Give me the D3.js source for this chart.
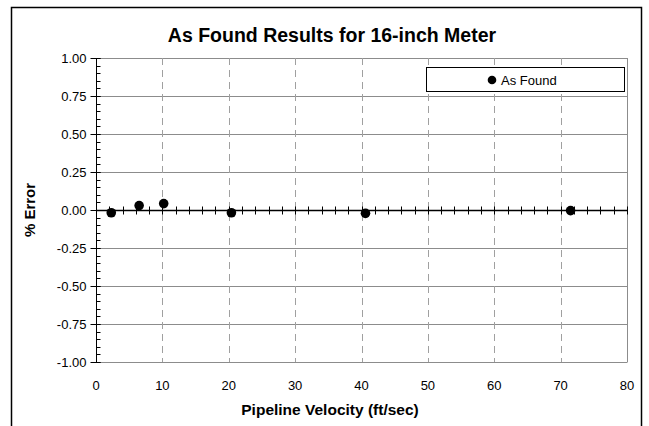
<!DOCTYPE html>
<html>
<head>
<meta charset="utf-8">
<script src="https://cdn.jsdelivr.net/npm/d3@7"></script>
<style>
  body { margin: 0; background: #fff; }
  svg { display: block; font-family: "Liberation Sans", Arial, sans-serif; }
</style>
</head>
<body>
<svg id="chart" width="649" height="426"></svg>
<script>
const velocity = [2.3, 6.5, 10.2, 20.4, 40.6, 71.5];
const pctError = [-0.018, 0.029, 0.042, -0.018, -0.022, -0.004];
const xTicks = [0, 10, 20, 30, 40, 50, 60, 70, 80];
const yTicks = [1, 0.75, 0.5, 0.25, 0, -0.25, -0.5, -0.75, -1];

const margin = { top: 58, right: 22, bottom: 64, left: 96 };
const WIDTH = 649;
const HEIGHT = 426;

const svg = d3.select("#chart");

// outer chart frame (runs off the bottom like the original)
svg.append("rect")
  .attr("x", 11.5).attr("y", 7.5)
  .attr("width", 630).attr("height", 440)
  .attr("fill", "none").attr("stroke", "#000").attr("stroke-width", 1.5);

const xScale = d3.scaleLinear().domain([0, 80]).range([margin.left, WIDTH - margin.right]);
const yScale = d3.scaleLinear().domain([-1, 1]).range([HEIGHT - margin.bottom, margin.top]);

const [x0, x1] = xScale.range();
const [yb, yt] = yScale.range();

// horizontal grid
svg.append("g")
  .selectAll("line")
  .data(yTicks.filter((d) => d !== 0))
  .join("line")
  .attr("x1", x0).attr("x2", x1)
  .attr("y1", (d) => Math.round(yScale(d)) + 0.5)
  .attr("y2", (d) => Math.round(yScale(d)) + 0.5)
  .attr("stroke", "#8c8c8c");

// vertical dashed grid
svg.append("g")
  .selectAll("line")
  .data(xTicks.filter((d) => d !== 0 && d !== 80))
  .join("line")
  .attr("x1", (d) => Math.round(xScale(d)) + 0.5)
  .attr("x2", (d) => Math.round(xScale(d)) + 0.5)
  .attr("y1", yt).attr("y2", yb)
  .attr("stroke", "#a0a0a0")
  .attr("stroke-dasharray", "7,5");

// right border
svg.append("line")
  .attr("x1", x1 + 0.5).attr("x2", x1 + 0.5)
  .attr("y1", yt).attr("y2", yb + 0.5)
  .attr("stroke", "#8c8c8c");

// y axis with outward major ticks and inner minor ticks
const yAxis = svg.append("g").attr("transform", `translate(${x0 + 0.5},0)`);
yAxis.append("line")
  .attr("y1", yt).attr("y2", yb + 1).attr("stroke", "#000");
yAxis.selectAll(".minor")
  .data(d3.range(-1, 1.0001, 0.05))
  .join("line")
  .attr("y1", (d) => Math.round(yScale(d)) + 0.5)
  .attr("y2", (d) => Math.round(yScale(d)) + 0.5)
  .attr("x1", 0).attr("x2", 4)
  .attr("stroke", "#000");
yAxis.selectAll(".major")
  .data(yTicks)
  .join("line")
  .attr("y1", (d) => Math.round(yScale(d)) + 0.5)
  .attr("y2", (d) => Math.round(yScale(d)) + 0.5)
  .attr("x1", -6).attr("x2", 4)
  .attr("stroke", "#000");
yAxis.selectAll("text")
  .data(yTicks)
  .join("text")
  .attr("x", -10)
  .attr("y", (d) => yScale(d))
  .attr("dy", "0.35em")
  .attr("text-anchor", "end")
  .attr("font-size", 13)
  .text((d) => d.toFixed(2));

// x axis at zero line, ticks crossing it
const zeroY = Math.round(yScale(0)) + 0.5;
svg.append("line")
  .attr("x1", x0).attr("x2", x1 + 1)
  .attr("y1", zeroY).attr("y2", zeroY)
  .attr("stroke", "#000").attr("stroke-width", 1.3);
svg.append("g")
  .selectAll("line")
  .data(d3.range(2, 80.001, 2))
  .join("line")
  .attr("x1", (d) => Math.round(xScale(d)) + 0.5)
  .attr("x2", (d) => Math.round(xScale(d)) + 0.5)
  .attr("y1", zeroY - 4).attr("y2", zeroY + 4)
  .attr("stroke", "#000");

// x tick labels below the plot
svg.append("g")
  .selectAll("text")
  .data(xTicks)
  .join("text")
  .attr("x", (d) => xScale(d))
  .attr("y", yb + 28)
  .attr("text-anchor", "middle")
  .attr("font-size", 13)
  .text((d) => d);

// points
svg.append("g")
  .selectAll("circle")
  .data(velocity.map((v, i) => [v, pctError[i]]))
  .join("circle")
  .attr("cx", (d) => xScale(d[0]))
  .attr("cy", (d) => yScale(d[1]))
  .attr("r", 4.8)
  .attr("fill", "#000");

// titles
svg.append("text")
  .attr("x", 332).attr("y", 42)
  .attr("text-anchor", "middle")
  .attr("font-size", 19.5).attr("font-weight", "bold")
  .text("As Found Results for 16-inch Meter");

svg.append("text")
  .attr("x", 330).attr("y", 415)
  .attr("text-anchor", "middle")
  .attr("font-size", 15.5).attr("font-weight", "bold")
  .text("Pipeline Velocity (ft/sec)");

svg.append("text")
  .attr("transform", `translate(35,${(yt + yb) / 2}) rotate(-90)`)
  .attr("text-anchor", "middle")
  .attr("font-size", 15).attr("font-weight", "bold")
  .text("% Error");

// legend
const legend = svg.append("g");
legend.append("rect")
  .attr("x", 426.5).attr("y", 67.5)
  .attr("width", 198).attr("height", 24)
  .attr("fill", "#fff").attr("stroke", "#000");
legend.append("circle")
  .attr("cx", 492).attr("cy", 80).attr("r", 4.3).attr("fill", "#000");
legend.append("text")
  .attr("x", 501).attr("y", 80).attr("dy", "0.35em")
  .attr("font-size", 13)
  .text("As Found");
</script>
</body>
</html>
